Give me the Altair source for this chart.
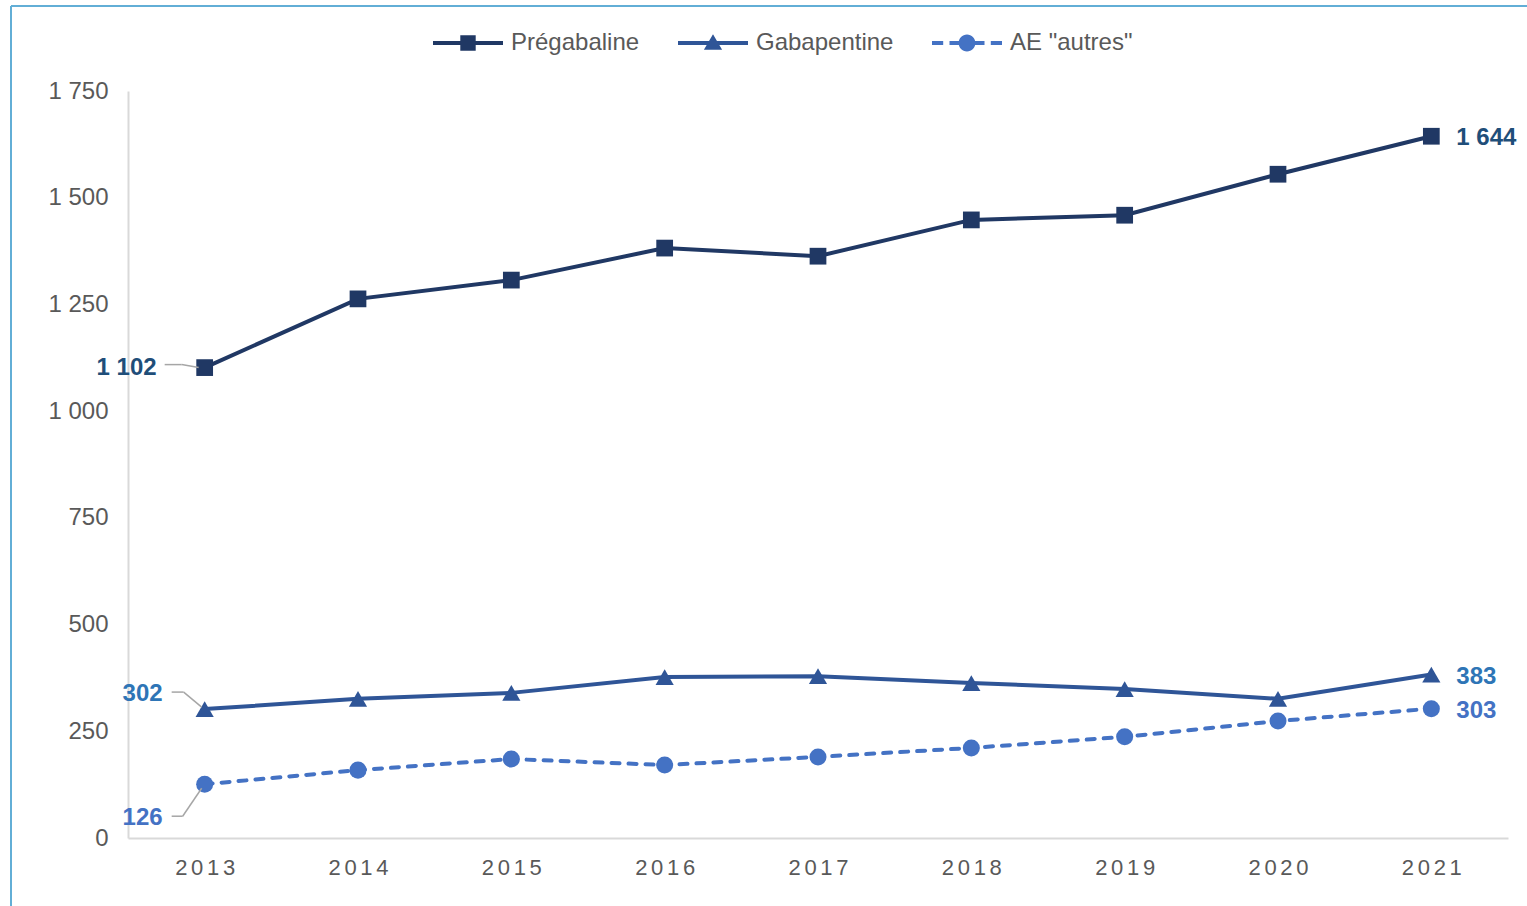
import altair as alt
import pandas as pd

# ---------------- data ----------------
years = ["2013", "2014", "2015", "2016", "2017", "2018", "2019", "2020", "2021"]
pregabaline = [1102, 1263, 1307, 1382, 1363, 1448, 1459, 1555, 1644]
gabapentine = [302, 326, 340, 377, 379, 363, 349, 326, 383]
ae_autres = [126, 159, 185, 171, 190, 211, 237, 274, 303]
series_names = ["Prégabaline", "Gabapentine", 'AE "autres"']
y_ticks = [0, 250, 500, 750, 1000, 1250, 1500, 1750]

rows = []
for name, vals in zip(series_names, [pregabaline, gabapentine, ae_autres]):
    for yr, v in zip(years, vals):
        rows.append({"year": yr, "value": v, "series": name})
df = pd.DataFrame(rows)

# ---------------- styles ----------------
FONT = "Liberation Sans"
line_colors = ["#203864", "#2F5597", "#4472C4"]
label_colors = ["#1F4E79", "#2E75B6", "#4472C4"]
point_shapes = ["square", "triangle-up", "circle"]
point_sizes = [280, 330, 290]
dashed = [False, False, True]

# first-label offsets (dx, dy) and leader segments (offsets from the point)
first_label_off = [(-48, 0), (-42, -15), (-42, 34)]
leaders = [
    [((-40, -3), (-23, -3)), ((-23, -3), (-6, 0))],
    [((-33, -17), (-21, -17)), ((-21, -17), (-3, -2))],
    [((-33, 32), (-22, 32)), ((-22, 32), (-3, 4))],
]

# legend symbols: line + marker drawn as custom paths
bar = "M-1,-0.06H1V0.06H-1Z"
legend_paths = [
    bar + " M-0.22,-0.22H0.22V0.22H-0.22Z",
    bar + " M0,-0.25L0.26,0.19L-0.26,0.19Z",
    "M-1,-0.06H-0.68V0.06H-1Z M-0.5,-0.06H-0.2V0.06H-0.5Z "
    "M0.2,-0.06H0.5V0.06H0.2Z M0.68,-0.06H1V0.06H0.68Z "
    "M-0.24,0A0.24,0.24 0 1,1 0.24,0A0.24,0.24 0 1,1 -0.24,0Z",
]

x_enc = alt.X(
    "year:O",
    sort=years,
    scale=alt.Scale(type="point", padding=0.5),
    axis=alt.Axis(
        title=None,
        labelAngle=0,
        ticks=False,
        grid=False,
        domainColor="#d9d9d9",
        domainWidth=2,
        labelFontSize=22,
        labelColor="#595959",
        labelPadding=19,
        labelExpr="join(split(datum.label, ''), '\u2006')",
    ),
)
y_enc = alt.Y(
    "value:Q",
    scale=alt.Scale(domain=[0, 1750], nice=False),
    axis=alt.Axis(
        title=None,
        values=y_ticks,
        ticks=False,
        grid=False,
        domainColor="#d9d9d9",
        domainWidth=2,
        labelFontSize=24,
        labelColor="#595959",
        labelPadding=20,
        labelExpr="replace(format(datum.value, ','), ',', ' ')",
    ),
)

base = alt.Chart(df)
layers = []

for i, name in enumerate(series_names):
    sel = base.transform_filter(alt.datum.series == name)
    lkw = dict(color=line_colors[i], strokeWidth=4)
    if dashed[i]:
        lkw.update(strokeDash=[8, 9], strokeCap="round")
    layers.append(sel.mark_line(**lkw).encode(x=x_enc, y=y_enc))
    layers.append(
        sel.mark_point(
            shape=point_shapes[i], filled=True, size=point_sizes[i],
            color=line_colors[i], opacity=1,
        ).encode(x=x_enc, y=y_enc)
    )

# value labels
for i, name in enumerate(series_names):
    lab = base.transform_calculate(
        label="replace(format(datum.value, ','), ',', ' ')"
    )
    first = lab.transform_filter(
        (alt.datum.series == name) & (alt.datum.year == years[0])
    )
    last = lab.transform_filter(
        (alt.datum.series == name) & (alt.datum.year == years[-1])
    )
    dx, dy = first_label_off[i]
    layers.append(
        first.mark_text(
            align="right", baseline="middle", dx=dx, dy=dy, font=FONT,
            fontSize=24, fontWeight="bold", color=label_colors[i],
        ).encode(x=x_enc, y=y_enc, text="label:N")
    )
    layers.append(
        last.mark_text(
            align="left", baseline="middle", dx=25, dy=2, font=FONT,
            fontSize=24, fontWeight="bold", color=label_colors[i],
        ).encode(x=x_enc, y=y_enc, text="label:N")
    )
    for (a, b) in leaders[i]:
        layers.append(
            first.mark_rule(
                color="#a6a6a6", strokeWidth=1.5,
                xOffset=a[0], yOffset=a[1], x2Offset=b[0], y2Offset=b[1],
            ).encode(x=x_enc, y=y_enc, x2=alt.X2("year"), y2=alt.Y2("value"))
        )

# legend layer (marks clipped away, only the legend is visible)
legend_layer = base.mark_point(filled=True, clip=True, opacity=1).encode(
    x=x_enc,
    y=alt.value(-3000),
    color=alt.Color(
        "series:N",
        scale=alt.Scale(domain=series_names, range=line_colors),
        legend=alt.Legend(title=None),
    ),
    shape=alt.Shape(
        "series:N",
        scale=alt.Scale(domain=series_names, range=legend_paths),
        legend=alt.Legend(title=None),
    ),
)
layers.append(legend_layer)

# outer frame (top and left borders)
frame_df = pd.DataFrame({"k": [0]})
frame = alt.Chart(frame_df)
layers.append(
    frame.mark_rule(color="#62AED6", strokeWidth=2).encode(
        x=alt.value(-117), x2=alt.value(1420), y=alt.value(-85)
    )
)
layers.append(
    frame.mark_rule(color="#62AED6", strokeWidth=2).encode(
        x=alt.value(-117), y=alt.value(-85), y2=alt.value(830)
    )
)

chart = (
    alt.layer(*layers)
    .properties(
        width=1380,
        height=747,
        autosize=alt.AutoSizeParams(type="none"),
        padding={"left": 128, "top": 91, "right": 19, "bottom": 68},
        background="white",
    )
    .configure(font=FONT)
    .configure_view(stroke=None)
    .configure_legend(
        orient="none",
        legendX=305,
        legendY=-83,
        direction="horizontal",
        symbolSize=4900,
        symbolStrokeWidth=0,
        labelFontSize=24,
        labelColor="#595959",
        labelOffset=8,
        columnPadding=38,
        padding=0,
        labelLimit=400,
    )
)

chart.save("out.html", embed_options={"renderer": "svg", "actions": False})
